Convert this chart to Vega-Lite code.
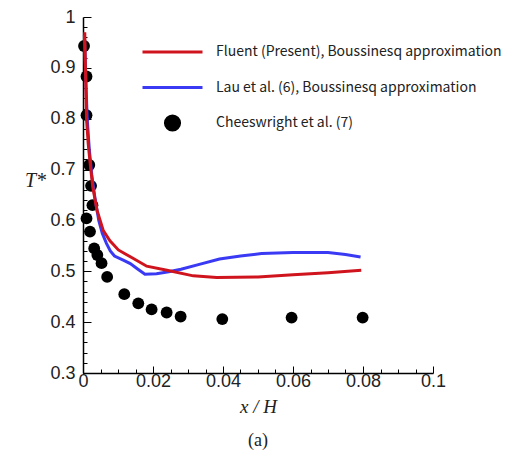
{
  "$schema": "https://vega.github.io/schema/vega-lite/v6.json",
  "width": 350,
  "height": 356,
  "autosize": {"type": "none"},
  "padding": {"left": 83, "top": 17, "right": 92, "bottom": 83},
  "background": "white",
  "config": {"view": {"stroke": null}},
  "title": {"text": "(a)", "orient": "bottom", "font": "Liberation Serif", "fontSize": 18, "fontWeight": "normal", "color": "#222", "offset": 16},
  "data": {"values": [
    {"series": "Lau et al. (6), Boussinesq approximation", "x": 0.0004, "y": 0.965},
    {"series": "Lau et al. (6), Boussinesq approximation", "x": 0.0008, "y": 0.88},
    {"series": "Lau et al. (6), Boussinesq approximation", "x": 0.0012, "y": 0.8},
    {"series": "Lau et al. (6), Boussinesq approximation", "x": 0.0018, "y": 0.74},
    {"series": "Lau et al. (6), Boussinesq approximation", "x": 0.0025, "y": 0.69},
    {"series": "Lau et al. (6), Boussinesq approximation", "x": 0.0035, "y": 0.64},
    {"series": "Lau et al. (6), Boussinesq approximation", "x": 0.0045, "y": 0.6},
    {"series": "Lau et al. (6), Boussinesq approximation", "x": 0.0055, "y": 0.575},
    {"series": "Lau et al. (6), Boussinesq approximation", "x": 0.0067, "y": 0.555},
    {"series": "Lau et al. (6), Boussinesq approximation", "x": 0.0078, "y": 0.54},
    {"series": "Lau et al. (6), Boussinesq approximation", "x": 0.009, "y": 0.53},
    {"series": "Lau et al. (6), Boussinesq approximation", "x": 0.0115, "y": 0.522},
    {"series": "Lau et al. (6), Boussinesq approximation", "x": 0.0135, "y": 0.515},
    {"series": "Lau et al. (6), Boussinesq approximation", "x": 0.0155, "y": 0.505},
    {"series": "Lau et al. (6), Boussinesq approximation", "x": 0.0177, "y": 0.494},
    {"series": "Lau et al. (6), Boussinesq approximation", "x": 0.021, "y": 0.495},
    {"series": "Lau et al. (6), Boussinesq approximation", "x": 0.0245, "y": 0.499},
    {"series": "Lau et al. (6), Boussinesq approximation", "x": 0.028, "y": 0.504},
    {"series": "Lau et al. (6), Boussinesq approximation", "x": 0.0335, "y": 0.514},
    {"series": "Lau et al. (6), Boussinesq approximation", "x": 0.039, "y": 0.524},
    {"series": "Lau et al. (6), Boussinesq approximation", "x": 0.045, "y": 0.53},
    {"series": "Lau et al. (6), Boussinesq approximation", "x": 0.051, "y": 0.535},
    {"series": "Lau et al. (6), Boussinesq approximation", "x": 0.06, "y": 0.537},
    {"series": "Lau et al. (6), Boussinesq approximation", "x": 0.07, "y": 0.537},
    {"series": "Lau et al. (6), Boussinesq approximation", "x": 0.075, "y": 0.533},
    {"series": "Lau et al. (6), Boussinesq approximation", "x": 0.0793, "y": 0.528},
    {"series": "Fluent (Present), Boussinesq approximation", "x": 0.0005, "y": 0.97},
    {"series": "Fluent (Present), Boussinesq approximation", "x": 0.0007, "y": 0.9},
    {"series": "Fluent (Present), Boussinesq approximation", "x": 0.001, "y": 0.8},
    {"series": "Fluent (Present), Boussinesq approximation", "x": 0.0015, "y": 0.75},
    {"series": "Fluent (Present), Boussinesq approximation", "x": 0.002, "y": 0.715},
    {"series": "Fluent (Present), Boussinesq approximation", "x": 0.0028, "y": 0.665},
    {"series": "Fluent (Present), Boussinesq approximation", "x": 0.004, "y": 0.62},
    {"series": "Fluent (Present), Boussinesq approximation", "x": 0.0058, "y": 0.58},
    {"series": "Fluent (Present), Boussinesq approximation", "x": 0.0077, "y": 0.56},
    {"series": "Fluent (Present), Boussinesq approximation", "x": 0.0101, "y": 0.542},
    {"series": "Fluent (Present), Boussinesq approximation", "x": 0.0144, "y": 0.525},
    {"series": "Fluent (Present), Boussinesq approximation", "x": 0.0182, "y": 0.51},
    {"series": "Fluent (Present), Boussinesq approximation", "x": 0.024, "y": 0.502},
    {"series": "Fluent (Present), Boussinesq approximation", "x": 0.0315, "y": 0.491},
    {"series": "Fluent (Present), Boussinesq approximation", "x": 0.0382, "y": 0.488},
    {"series": "Fluent (Present), Boussinesq approximation", "x": 0.05, "y": 0.489},
    {"series": "Fluent (Present), Boussinesq approximation", "x": 0.06, "y": 0.493},
    {"series": "Fluent (Present), Boussinesq approximation", "x": 0.07, "y": 0.497},
    {"series": "Fluent (Present), Boussinesq approximation", "x": 0.0795, "y": 0.502},
    {"series": "Cheeswright et al. (7)", "x": 0.0003, "y": 0.943},
    {"series": "Cheeswright et al. (7)", "x": 0.001, "y": 0.883},
    {"series": "Cheeswright et al. (7)", "x": 0.001, "y": 0.807},
    {"series": "Cheeswright et al. (7)", "x": 0.0018, "y": 0.709},
    {"series": "Cheeswright et al. (7)", "x": 0.0023, "y": 0.668},
    {"series": "Cheeswright et al. (7)", "x": 0.0027, "y": 0.63},
    {"series": "Cheeswright et al. (7)", "x": 0.001, "y": 0.604},
    {"series": "Cheeswright et al. (7)", "x": 0.002, "y": 0.578},
    {"series": "Cheeswright et al. (7)", "x": 0.0032, "y": 0.545},
    {"series": "Cheeswright et al. (7)", "x": 0.0041, "y": 0.532},
    {"series": "Cheeswright et al. (7)", "x": 0.0053, "y": 0.516},
    {"series": "Cheeswright et al. (7)", "x": 0.0069, "y": 0.489},
    {"series": "Cheeswright et al. (7)", "x": 0.0118, "y": 0.455},
    {"series": "Cheeswright et al. (7)", "x": 0.0158, "y": 0.437},
    {"series": "Cheeswright et al. (7)", "x": 0.0196, "y": 0.425},
    {"series": "Cheeswright et al. (7)", "x": 0.0239, "y": 0.419},
    {"series": "Cheeswright et al. (7)", "x": 0.0279, "y": 0.411},
    {"series": "Cheeswright et al. (7)", "x": 0.0398, "y": 0.406},
    {"series": "Cheeswright et al. (7)", "x": 0.0596, "y": 0.409},
    {"series": "Cheeswright et al. (7)", "x": 0.0799, "y": 0.409}
  ]},
  "encoding": {
    "x": {
      "field": "x", "type": "quantitative",
      "scale": {"domain": [0, 0.1], "nice": false, "zero": false},
      "axis": {
        "title": "x / H",
        "titleFont": "Liberation Serif", "titleFontStyle": "italic", "titleFontWeight": "normal", "titleFontSize": 19, "titleColor": "#222", "titlePadding": 4,
        "values": [0, 0.005, 0.01, 0.015, 0.02, 0.025, 0.03, 0.035, 0.04, 0.045, 0.05, 0.055, 0.06, 0.065, 0.07, 0.075, 0.08, 0.085, 0.09, 0.095, 0.1],
        "tickSize": {"expr": "round(datum.value*200) % 4 == 0 ? -7 : -4"},
        "tickColor": "black", "tickWidth": 1,
        "domainColor": "black", "domainWidth": 1.5,
        "grid": false,
        "labelExpr": "round(datum.value*200) % 4 == 0 ? format(datum.value, '~g') : ''",
        "labelFont": "Liberation Sans", "labelFontSize": 18, "labelColor": "#222",
        "labelPadding": 6, "labelOverlap": false, "labelFlush": false
      }
    },
    "y": {
      "field": "y", "type": "quantitative",
      "scale": {"domain": [0.3, 1], "nice": false, "zero": false},
      "axis": {
        "title": "T*",
        "titleAngle": 0, "titleX": -48, "titleY": 163, "titleAlign": "center", "titleBaseline": "middle",
        "titleFont": "Liberation Serif", "titleFontStyle": "italic", "titleFontWeight": "normal", "titleFontSize": 20, "titleColor": "#222",
        "values": [0.3, 0.32, 0.34, 0.36, 0.38, 0.4, 0.42, 0.44, 0.46, 0.48, 0.5, 0.52, 0.54, 0.56, 0.58, 0.6, 0.62, 0.64, 0.66, 0.68, 0.7, 0.72, 0.74, 0.76, 0.78, 0.8, 0.82, 0.84, 0.86, 0.88, 0.9, 0.92, 0.94, 0.96, 0.98, 1],
        "tickSize": {"expr": "round(datum.value*50) % 5 == 0 ? -8 : -4"},
        "tickColor": "black", "tickWidth": 1,
        "domainColor": "black", "domainWidth": 1.5,
        "grid": false,
        "labelExpr": "round(datum.value*50) % 5 == 0 ? format(datum.value, '~g') : ''",
        "labelFont": "Liberation Sans", "labelFontSize": 18, "labelColor": "#222",
        "labelPadding": 16, "labelOverlap": false, "labelFlush": false
      }
    }
  },
  "layer": [
    {
      "transform": [{"filter": "datum.series === 'Cheeswright et al. (7)'"}],
      "mark": {"type": "point", "filled": true, "color": "black", "size": 140, "opacity": 1}
    },
    {
      "transform": [{"filter": "datum.series !== 'Cheeswright et al. (7)'"}],
      "mark": {"type": "line", "strokeWidth": 3},
      "encoding": {
        "color": {
          "field": "series", "type": "nominal",
          "scale": {
            "domain": ["Fluent (Present), Boussinesq approximation", "Lau et al. (6), Boussinesq approximation", "Cheeswright et al. (7)"],
            "range": ["#d0141e", "#3a3af5", "black"]
          },
          "legend": {
            "orient": "none", "legendX": 58, "legendY": 24, "title": null, "padding": 0,
            "symbolType": "stroke", "symbolSize": 200, "symbolStrokeWidth": 3,
            "labelFont": "Noto Sans CJK KR", "labelFontSize": 14, "labelColor": "#222",
            "labelOffset": 12, "rowPadding": 13.5, "clipHeight": 22, "labelLimit": 0,
            "encode": {
              "symbols": {
                "update": {
                  "shape": {"signal": "datum.value === 'Cheeswright et al. (7)' ? 'circle' : 'stroke'"},
                  "size": {"signal": "datum.value === 'Cheeswright et al. (7)' ? 200 : 3600"},
                  "fill": {"signal": "datum.value === 'Cheeswright et al. (7)' ? 'black' : 'transparent'"},
                  "stroke": {"signal": "datum.value === 'Cheeswright et al. (7)' ? 'transparent' : scale('color', datum.value)"}
                }
              }
            }
          }
        }
      }
    }
  ]
}
